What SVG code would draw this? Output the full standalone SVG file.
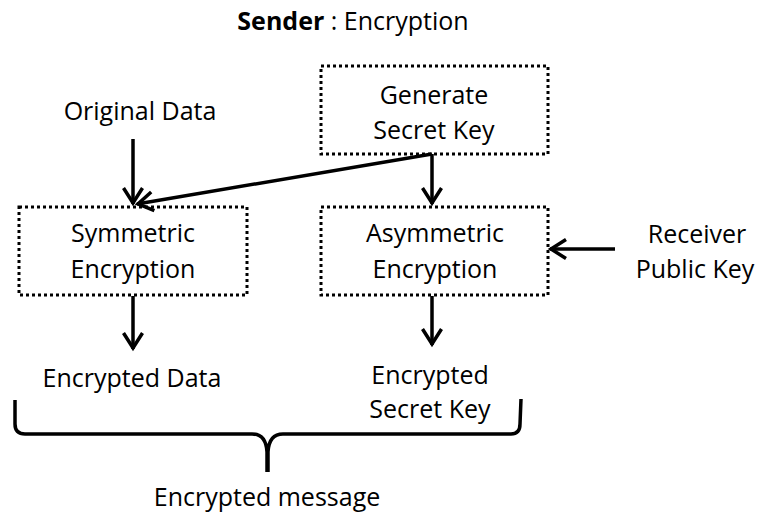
<svg xmlns="http://www.w3.org/2000/svg" width="759" height="518" viewBox="0 0 759 518">
  <style>
    text { font-family: "Open Sans", "Liberation Sans", sans-serif; font-size: 25px; fill: #000; text-anchor: middle; }
    .box { fill: none; stroke: #000; stroke-width: 3; stroke-dasharray: 3 3; }
    .conn { fill: none; stroke: #000; stroke-width: 3.5; }
    .brace { fill: none; stroke: #000; stroke-width: 3.5; stroke-linejoin: round; }
  </style>
  <defs>
    <marker id="arr" markerUnits="userSpaceOnUse" markerWidth="24" markerHeight="24" viewBox="-20 -12 24 24" refX="0" refY="0" orient="auto">
      <polyline points="-16,-9.5 -1,0 -16,9.5" fill="none" stroke="#000" stroke-width="3.5"/>
    </marker>
  </defs>
  <rect width="759" height="518" fill="#fff"/>

  <text x="353" y="30"><tspan font-weight="bold">Sender</tspan> : Encryption</text>

  <g id="original-data"><text x="140" y="120">Original Data</text></g>

  <g id="generate-secret-key">
    <rect class="box" x="321" y="66" width="227" height="88"/>
    <text x="434" y="104">Generate</text>
    <text x="434" y="139">Secret Key</text>
  </g>

  <g id="symmetric-encryption">
    <rect class="box" x="19" y="207" width="228" height="88"/>
    <text x="133" y="242">Symmetric</text>
    <text x="133" y="278">Encryption</text>
  </g>

  <g id="asymmetric-encryption">
    <rect class="box" x="321" y="207" width="227" height="88"/>
    <text x="435" y="242">Asymmetric</text>
    <text x="435" y="278">Encryption</text>
  </g>

  <g id="receiver-public-key">
    <text x="697" y="243">Receiver</text>
    <text x="695" y="278">Public Key</text>
  </g>

  <g id="encrypted-data"><text x="132" y="387">Encrypted Data</text></g>

  <g id="encrypted-secret-key">
    <text x="430" y="384">Encrypted</text>
    <text x="430" y="418">Secret Key</text>
  </g>

  <g id="encrypted-message">
    <path class="brace" d="M15,400 V424 Q15,434 25,434 H252 Q266,434 267,452 V472 M268,472 V452 Q269,434 283,434 H511 Q520,434 520,424 L521,399"/>
    <text x="267" y="506">Encrypted message</text>
  </g>

  <g id="connectors">
    <line class="conn" x1="133" y1="139" x2="133" y2="204" marker-end="url(#arr)"/>
    <line class="conn" x1="432" y1="154" x2="137" y2="204" marker-end="url(#arr)"/>
    <line class="conn" x1="432" y1="154" x2="432" y2="204" marker-end="url(#arr)"/>
    <line class="conn" x1="615" y1="249" x2="550" y2="249" marker-end="url(#arr)"/>
    <line class="conn" x1="133" y1="296" x2="133" y2="349" marker-end="url(#arr)"/>
    <line class="conn" x1="432" y1="296" x2="432" y2="345" marker-end="url(#arr)"/>
  </g>
</svg>
